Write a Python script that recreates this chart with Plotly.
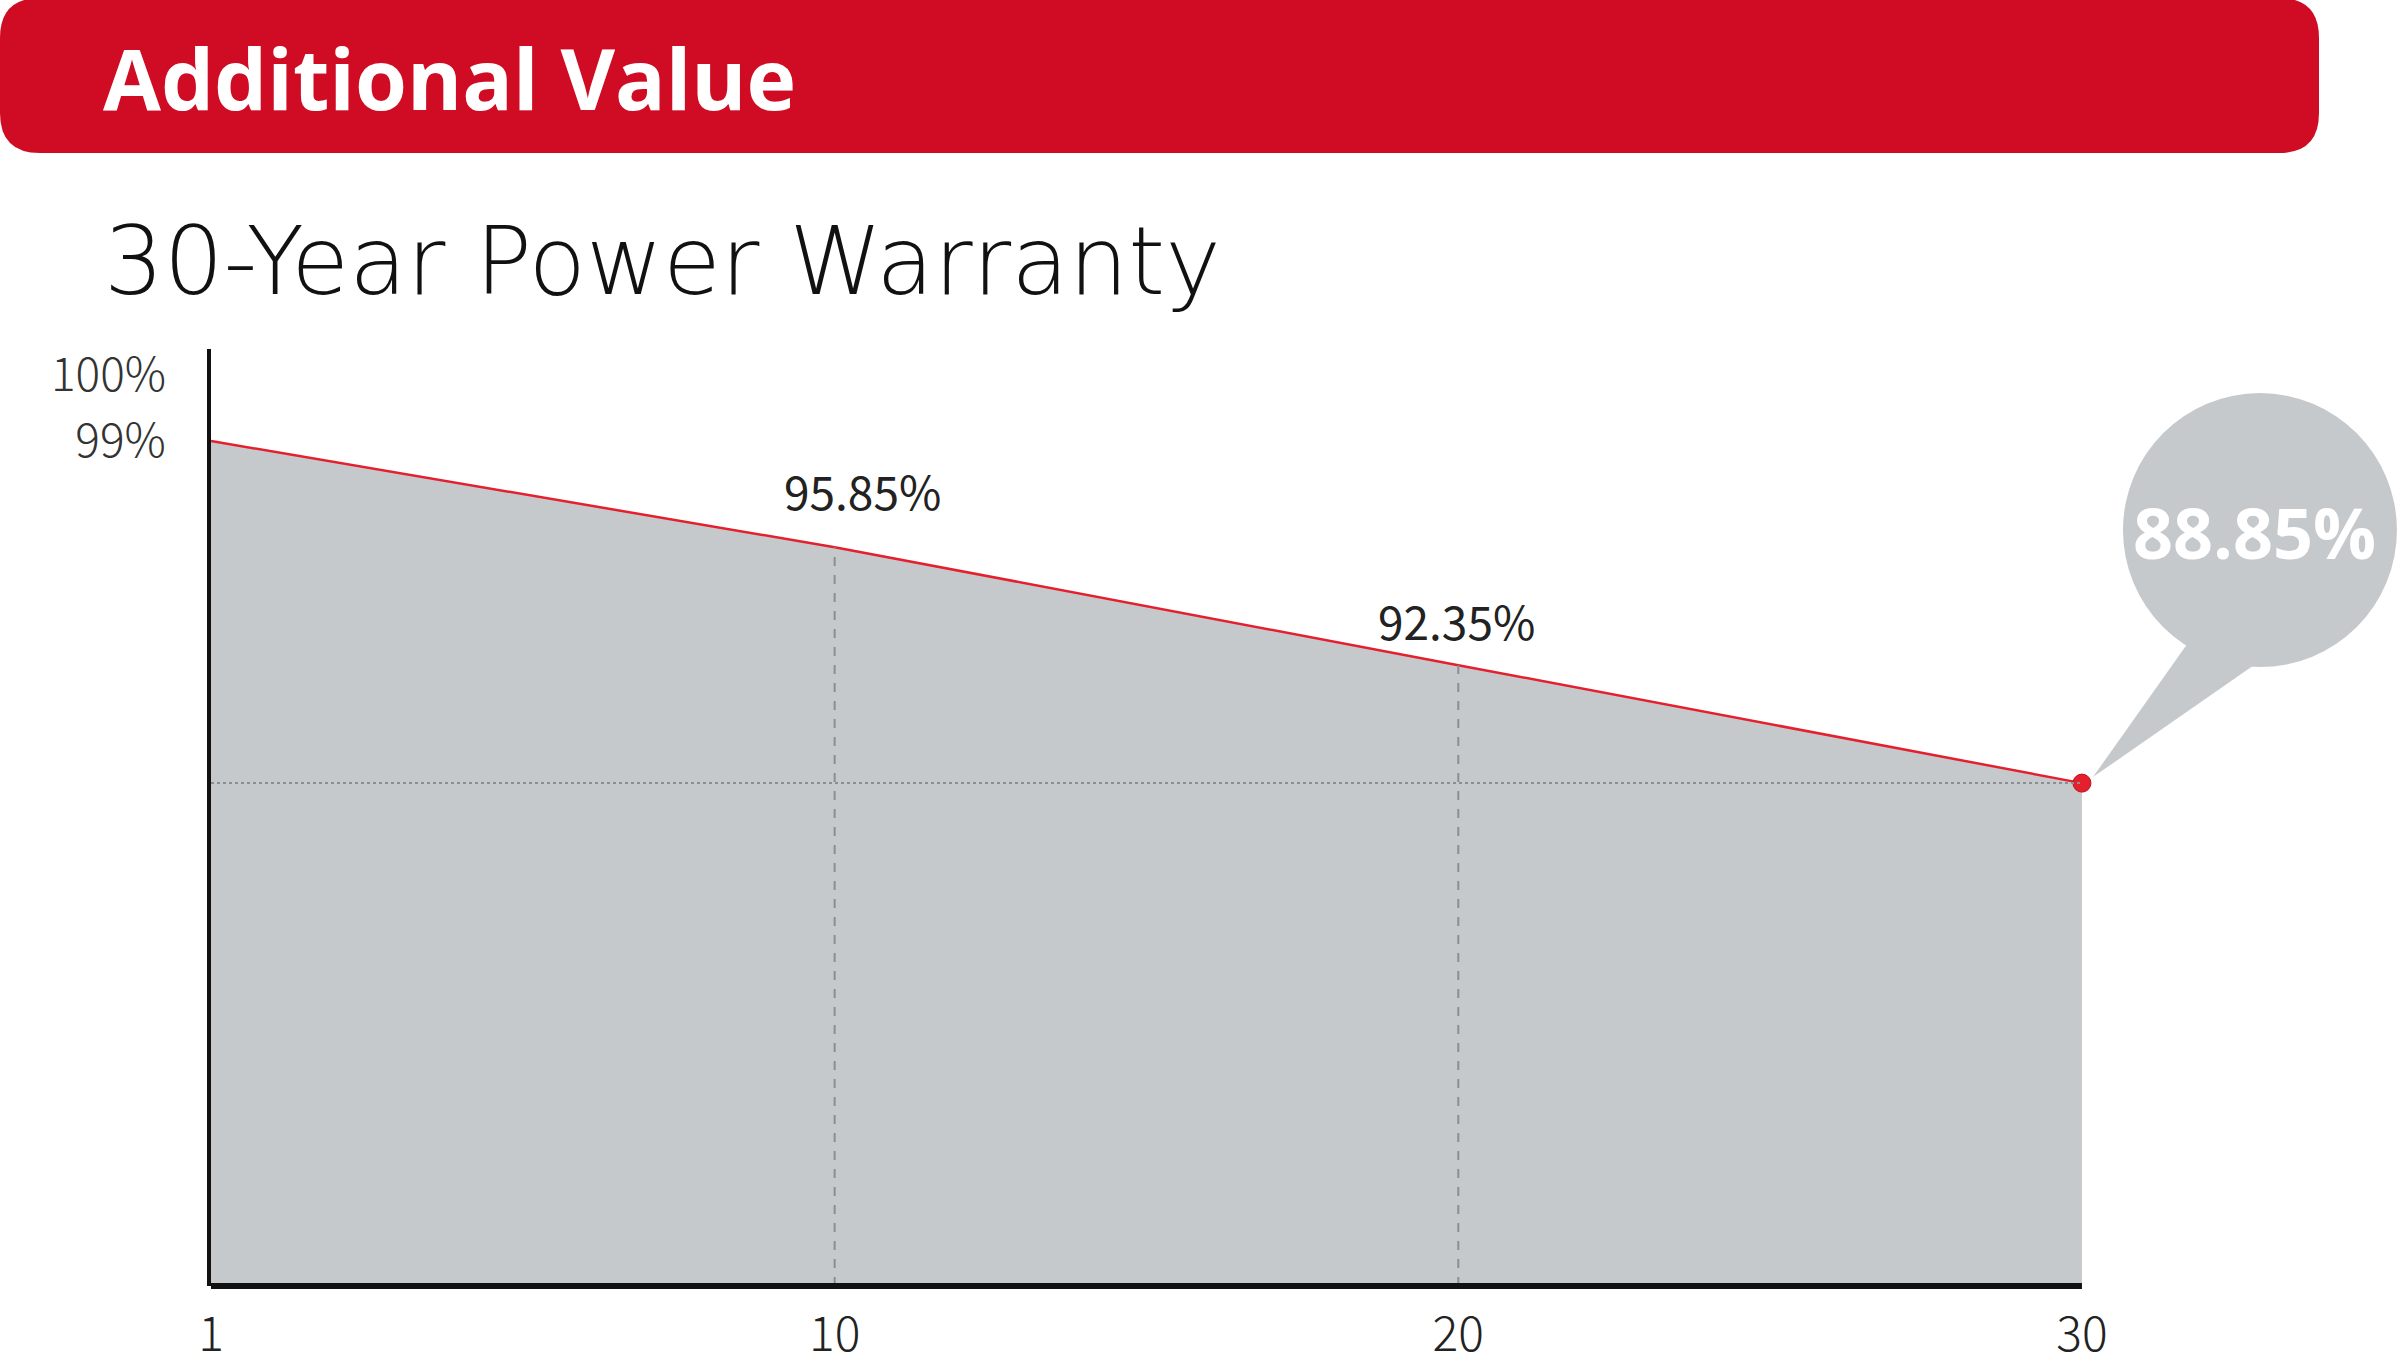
import plotly.graph_objects as go

# warranty curve
years = ["1", "10", "20", "30"]
power = [99, 95.85, 92.35, 88.85]
callout_years = ["10", "20"]
callout_power = [95.85, 92.35]
y_ticks = [99]
y_tick_text = ["99%"]

RED = "#d00c24"
LINE_RED = "#e4202e"
GREY = "#c6c9cc"
DASH = "#8b8e92"

Y_MIN, Y_MAX = 73.93, 101.73

# category axis -> shapes/annotations need the category index
pos = {yr: i for i, yr in enumerate(years)}
last = pos[years[-1]]

fig = go.Figure()

fig.add_trace(go.Scatter(
    x=years, y=power,
    mode="lines",
    line=dict(color=LINE_RED, width=2.5),
    fill="tozeroy", fillcolor=GREY,
    hoverinfo="skip",
))

fig.add_trace(go.Scatter(
    x=[years[-1]], y=[power[-1]],
    mode="markers",
    marker=dict(color=LINE_RED, size=18, line=dict(color="#c0101c", width=1)),
    cliponaxis=False,
    hoverinfo="skip",
))

shapes = []
# dashed guides down from the callout points
for yr, val in zip(callout_years, callout_power):
    shapes.append(dict(type="line", xref="x", yref="y",
                       x0=pos[yr], x1=pos[yr], y0=Y_MIN, y1=val,
                       line=dict(color=DASH, width=2, dash="dash")))
# dotted level line for the end value
shapes.append(dict(type="line", xref="x", yref="y",
                   x0=0, x1=last, y0=power[-1], y1=power[-1],
                   line=dict(color=DASH, width=2, dash="dot")))
# bottom axis line only up to the last year
shapes.append(dict(type="line", xref="x", yref="paper",
                   x0=0, x1=last, y0=0, y1=0,
                   line=dict(color="#111111", width=6)))

# speech bubble for the end value (pixel offsets from the last point)
shapes.append(dict(type="circle", xref="x", yref="y",
                   xsizemode="pixel", ysizemode="pixel",
                   xanchor=last, yanchor=power[-1],
                   x0=41, x1=315, y0=116, y1=390,
                   fillcolor=GREY, line=dict(width=0)))
shapes.append(dict(type="path", xref="x", yref="y",
                   xsizemode="pixel", ysizemode="pixel",
                   xanchor=last, yanchor=power[-1],
                   path="M11,6 L118,157 L188,129 Z",
                   fillcolor=GREY, line=dict(width=0)))

# red header banner (pixels from the top-left of the plot area)
L, R, T, B, r = -211, 2108, 351, 196, 40
banner = (f"M{L + r},{T} L{R - r},{T} Q{R},{T} {R},{T - r} "
          f"L{R},{B + r} Q{R},{B} {R - r},{B} L{L + r},{B} "
          f"Q{L},{B} {L},{B + r} L{L},{T - r} Q{L},{T} {L + r},{T} Z")
shapes.append(dict(type="path", xref="paper", yref="paper",
                   xsizemode="pixel", ysizemode="pixel",
                   xanchor=0, yanchor=1, path=banner,
                   fillcolor=RED, line=dict(width=0)))

annotations = [
    dict(text="<b>Additional Value</b>", xref="paper", yref="paper",
         x=0, y=1, xanchor="left", yanchor="middle",
         xshift=-110, yshift=272, showarrow=False,
         font=dict(family="Open Sans", size=84, color="white")),
    dict(text="30-Year Power Warranty", xref="paper", yref="paper",
         x=0, y=1, xanchor="left", yanchor="middle",
         xshift=-109, yshift=88, showarrow=False,
         font=dict(family="DejaVu Sans", size=94, color="#111111", weight=200)),
    dict(text="100%", xref="paper", yref="y", x=0, y=100,
         xanchor="right", yanchor="middle", xshift=-43, yshift=36,
         showarrow=False,
         font=dict(family="Noto Sans CJK SC", size=46, color="#333333", weight=300)),
    dict(text="<b>%.2f%%</b>" % power[-1], xref="x", yref="y",
         x=last, y=power[-1], xanchor="center", yanchor="middle",
         xshift=173, yshift=251, showarrow=False,
         font=dict(family="Open Sans", size=70, color="white")),
]
for (yr, val), (dx, dy) in zip(zip(callout_years, callout_power), [(28, 57), (-2, 45)]):
    annotations.append(dict(text="%.2f%%" % val, xref="x", yref="y",
                            x=pos[yr], y=val, xanchor="center", yanchor="middle",
                            xshift=dx, yshift=dy, showarrow=False,
                            font=dict(family="Noto Sans CJK SC", size=46, color="#222222")))

fig.update_layout(
    width=2400, height=1365,
    margin=dict(l=211, r=0, t=349, b=79),
    paper_bgcolor="white", plot_bgcolor="white",
    showlegend=False,
    shapes=shapes,
    annotations=annotations,
    xaxis=dict(type="category", range=[0, 3.51], automargin=False,
               showgrid=False, zeroline=False, showline=False,
               ticks="", ticklabelstandoff=16,
               tickfont=dict(family="Noto Sans CJK SC", size=48, color="#222222", weight=300)),
    yaxis=dict(range=[Y_MIN, Y_MAX], tickvals=y_ticks, ticktext=y_tick_text,
               automargin=False,
               showgrid=False, zeroline=False,
               showline=True, linecolor="#111111", linewidth=4,
               ticks="", ticklabelstandoff=32,
               tickfont=dict(family="Noto Sans CJK SC", size=46, color="#333333", weight=300)),
)

# drop the browser's default body margin so the figure sits at the page corner
fig.write_html("out.html", config={"displayModeBar": False},
               post_script="document.body.style.margin='0';")
